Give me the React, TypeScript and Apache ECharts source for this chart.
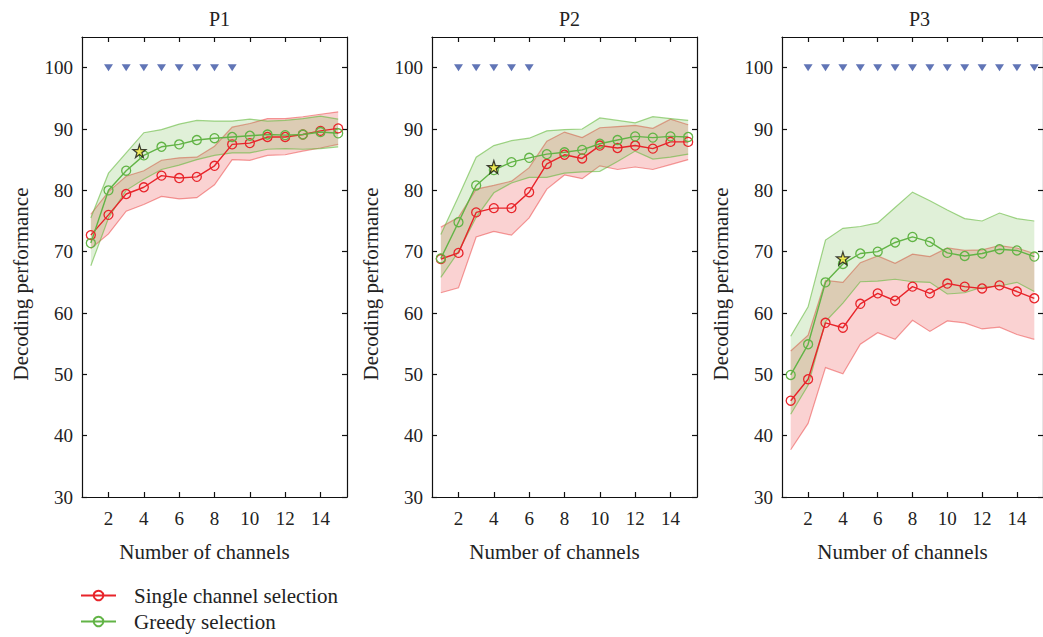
import React, { useEffect, useRef } from "react";
import * as echarts from "echarts";

const channels = [1, 2, 3, 4, 5, 6, 7, 8, 9, 10, 11, 12, 13, 14, 15];
const xTicks = [2, 4, 6, 8, 10, 12, 14];
const yTicks = [30, 40, 50, 60, 70, 80, 90, 100];
const panelTitles = ["P1", "P2", "P3"];

const p1Single = [72.7, 76.0, 79.4, 80.5, 82.4, 82.0, 82.2, 84.0, 87.5, 87.7, 88.7, 88.7, 89.1, 89.7, 90.1];
const p1SingleUpper = [76.1, 79.8, 82.3, 83.2, 84.9, 85.3, 85.4, 87.2, 90.3, 90.9, 91.7, 91.7, 92.0, 92.4, 92.8];
const p1SingleLower = [70.5, 72.9, 76.6, 77.7, 79.0, 78.6, 78.8, 80.9, 85.0, 84.9, 85.7, 85.8, 86.4, 86.9, 87.5];
const p1Greedy = [71.4, 80.0, 83.2, 85.7, 87.1, 87.5, 88.2, 88.5, 88.7, 88.9, 89.1, 89.0, 89.1, 89.5, 89.3];
const p1GreedyUpper = [75.5, 82.8, 86.1, 89.4, 89.9, 90.8, 91.4, 91.3, 91.3, 91.6, 91.3, 91.4, 91.7, 92.1, 91.6];
const p1GreedyLower = [67.7, 75.5, 80.0, 81.8, 83.4, 84.1, 85.0, 85.7, 86.1, 86.1, 86.7, 86.8, 86.7, 86.8, 87.1];

const p2Single = [68.8, 69.8, 76.4, 77.1, 77.1, 79.7, 84.3, 85.8, 85.2, 87.3, 86.9, 87.3, 86.8, 87.9, 87.9];
const p2SingleUpper = [74.0, 75.6, 80.2, 80.8, 81.5, 83.7, 88.0, 89.5, 88.6, 90.2, 90.4, 90.6, 90.1, 91.6, 90.7];
const p2SingleLower = [63.3, 64.1, 72.4, 73.3, 72.7, 75.5, 80.2, 82.5, 81.9, 84.0, 83.4, 83.8, 83.4, 84.2, 85.0];
const p2Greedy = [68.9, 74.8, 80.8, 83.3, 84.6, 85.3, 85.9, 86.2, 86.6, 87.6, 88.2, 88.8, 88.6, 88.8, 88.7];
const p2GreedyUpper = [72.8, 79.0, 85.4, 87.3, 88.1, 88.5, 89.7, 89.9, 90.0, 91.8, 91.4, 91.0, 92.0, 91.7, 91.4];
const p2GreedyLower = [65.8, 70.0, 75.6, 79.6, 81.2, 82.1, 82.1, 82.8, 83.0, 83.1, 84.7, 86.4, 85.1, 85.4, 85.9];

const p3Single = [45.7, 49.2, 58.4, 57.6, 61.5, 63.2, 62.0, 64.3, 63.2, 64.8, 64.3, 64.0, 64.5, 63.5, 62.4];
const p3SingleUpper = [53.8, 56.4, 65.3, 65.0, 68.2, 69.3, 68.1, 69.6, 69.2, 70.6, 70.2, 70.3, 71.0, 70.6, 69.7];
const p3SingleLower = [37.7, 42.0, 51.1, 50.1, 54.9, 56.8, 55.7, 58.8, 57.0, 58.7, 58.4, 57.4, 57.7, 56.5, 55.7];
const p3Greedy = [49.9, 54.9, 65.0, 68.0, 69.7, 70.0, 71.5, 72.4, 71.6, 69.8, 69.3, 69.7, 70.4, 70.2, 69.2];
const p3GreedyUpper = [56.2, 61.0, 71.9, 73.8, 74.1, 74.7, 77.2, 79.7, 78.3, 76.8, 75.4, 75.0, 76.3, 75.4, 75.0];
const p3GreedyLower = [43.5, 48.2, 58.6, 61.6, 65.1, 65.2, 65.5, 65.1, 65.0, 63.1, 63.3, 64.2, 64.4, 65.0, 63.5];

const p1Significant = [2, 3, 4, 5, 6, 7, 8, 9];
const p2Significant = [2, 3, 4, 5, 6];
const p3Significant = [2, 3, 4, 5, 6, 7, 8, 9, 10, 11, 12, 13, 14, 15];
const significanceLevel = 100;

const p1Star = [3.75, 86.4];
const p2Star = [4, 83.8];
const p3Star = [4, 68.9];

const panels = [
  { single: p1Single, sUp: p1SingleUpper, sLo: p1SingleLower, greedy: p1Greedy, gUp: p1GreedyUpper, gLo: p1GreedyLower, sig: p1Significant, star: p1Star },
  { single: p2Single, sUp: p2SingleUpper, sLo: p2SingleLower, greedy: p2Greedy, gUp: p2GreedyUpper, gLo: p2GreedyLower, sig: p2Significant, star: p2Star },
  { single: p3Single, sUp: p3SingleUpper, sLo: p3SingleLower, greedy: p3Greedy, gUp: p3GreedyUpper, gLo: p3GreedyLower, sig: p3Significant, star: p3Star },
];

const FONT = "'Liberation Serif', 'Times New Roman', serif";
const RED = "#e8242a";
const GREEN = "#62b446";
const STAR_PATH = "path://M50,0 L61,35 L98,35 L68,57 L79,91 L50,70 L21,91 L32,57 L2,35 L39,35 Z";

const gridLefts = [82, 432, 782];
const GRID_TOP = 37;
const GRID_W = 265;
const GRID_H = 460;

function bandSeries(xi: number, up: number[], lo: number[], fill: string, edge: string) {
  return {
    type: "custom",
    xAxisIndex: xi,
    yAxisIndex: xi,
    data: [[channels[0], lo[0]]],
    silent: true,
    clip: true,
    z: 1,
    renderItem: (_params: any, api: any) => {
      const upPts = channels.map((c, k) => api.coord([c, up[k]]));
      const loPts = channels.map((c, k) => api.coord([c, lo[k]]));
      return {
        type: "group",
        children: [
          { type: "polygon", shape: { points: upPts.concat(loPts.slice().reverse()) }, style: { fill, stroke: null } },
          { type: "polyline", shape: { points: upPts }, style: { fill: null, stroke: edge, lineWidth: 1.2 } },
          { type: "polyline", shape: { points: loPts }, style: { fill: null, stroke: edge, lineWidth: 1.2 } },
        ],
      };
    },
  };
}

function buildOption() {
  const grid: any[] = [];
  const xAxis: any[] = [];
  const yAxis: any[] = [];
  const series: any[] = [];
  const title: any[] = [];
  const axisLine = { show: true, lineStyle: { color: "#111", width: 1.2 } };
  const tickStyle = { color: "#111", width: 1.2 };

  panels.forEach((p, i) => {
    grid.push({ left: gridLefts[i], top: GRID_TOP, width: GRID_W, height: GRID_H });
    title.push({
      text: panelTitles[i],
      left: gridLefts[i] + GRID_W / 2,
      top: 4,
      textAlign: "center",
      textStyle: { fontFamily: FONT, fontSize: 20, fontWeight: "normal", color: "#222" },
    });
    xAxis.push({
      type: "value", gridIndex: i, min: 0.5, max: 15.5, position: "bottom",
      name: "Number of channels", nameLocation: "middle", nameGap: 44,
      nameTextStyle: { fontFamily: FONT, fontSize: 21, color: "#222", padding: [0, 20, 0, 0] },
      axisLine, splitLine: { show: false },
      axisTick: { inside: true, length: 5, customValues: xTicks, lineStyle: tickStyle },
      axisLabel: { customValues: xTicks, fontFamily: FONT, fontSize: 19, color: "#222", margin: 12 },
    });
    xAxis.push({
      type: "value", gridIndex: i, min: 0.5, max: 15.5, position: "top",
      axisLine, splitLine: { show: false },
      axisTick: { inside: true, length: 5, customValues: xTicks, lineStyle: tickStyle },
      axisLabel: { show: false },
    });
    yAxis.push({
      type: "value", gridIndex: i, min: 30, max: 105, position: "left",
      name: "Decoding performance", nameLocation: "middle", nameGap: 51,
      nameTextStyle: { fontFamily: FONT, fontSize: 21, color: "#222", padding: [0, 34, 0, 0] },
      axisLine, splitLine: { show: false },
      axisTick: { inside: true, length: 5, customValues: yTicks, lineStyle: tickStyle },
      axisLabel: { customValues: yTicks, fontFamily: FONT, fontSize: 19, color: "#222", margin: 9 },
    });
    yAxis.push({
      type: "value", gridIndex: i, min: 30, max: 105, position: "right",
      axisLine, splitLine: { show: false },
      axisTick: { inside: true, length: 5, customValues: yTicks, lineStyle: tickStyle },
      axisLabel: { show: false },
    });

    const xi = 2 * i;
    const pairs = (arr: number[]) => channels.map((c, k) => [c, arr[k]]);

    series.push(bandSeries(xi, p.sUp, p.sLo, "rgba(232,30,30,0.2)", "rgba(232,40,40,0.45)"));
    series.push(bandSeries(xi, p.gUp, p.gLo, "rgba(100,180,60,0.2)", "rgba(100,185,60,0.6)"));

    series.push({
      type: "line", name: "Single channel selection", xAxisIndex: xi, yAxisIndex: xi, z: 3,
      data: pairs(p.single), symbol: "circle", symbolSize: 9,
      lineStyle: { color: RED, width: 1.4 },
      itemStyle: { color: "rgba(255,255,255,0)", borderColor: RED, borderWidth: 1.3 },
    });
    series.push({
      type: "line", name: "Greedy selection", xAxisIndex: xi, yAxisIndex: xi, z: 3,
      data: pairs(p.greedy), symbol: "circle", symbolSize: 9,
      lineStyle: { color: GREEN, width: 1.4 },
      itemStyle: { color: "rgba(255,255,255,0)", borderColor: GREEN, borderWidth: 1.3 },
    });
    series.push({
      type: "scatter", name: "sig" + i, xAxisIndex: xi, yAxisIndex: xi,
      data: p.sig.map((c) => [c, significanceLevel]), symbol: "triangle", symbolRotate: 180,
      symbolSize: [9, 7], itemStyle: { color: "#3a52a4" }, silent: true,
    });
    series.push({
      type: "scatter", name: "star" + i, xAxisIndex: xi, yAxisIndex: xi,
      data: [p.star], symbol: STAR_PATH, symbolSize: 13,
      itemStyle: { color: "#f4e83c", borderColor: "#111", borderWidth: 1.2 }, silent: true, z: 5,
    });
  });

  const legendCommon = {
    orient: "vertical",
    left: 80,
    padding: 0,
    itemWidth: 35,
    itemHeight: 12,
    textStyle: { fontFamily: FONT, fontSize: 21, color: "#222", padding: [0, 0, 0, 13] },
  };

  return {
    animation: false,
    backgroundColor: "#ffffff",
    title,
    grid,
    xAxis,
    yAxis,
    series,
    legend: [
      { ...legendCommon, data: ["Single channel selection"], top: 585 },
      { ...legendCommon, data: ["Greedy selection"], top: 611 },
    ],
  };
}

export default function App() {
  const ref = useRef<HTMLDivElement>(null);
  useEffect(() => {
    document.body.style.margin = "0";
    const chart = echarts.init(ref.current!, null, { renderer: "svg" });
    chart.setOption(buildOption() as any);
    return () => chart.dispose();
  }, []);
  return <div ref={ref} style={{ width: 1043, height: 637 }} />;
}
